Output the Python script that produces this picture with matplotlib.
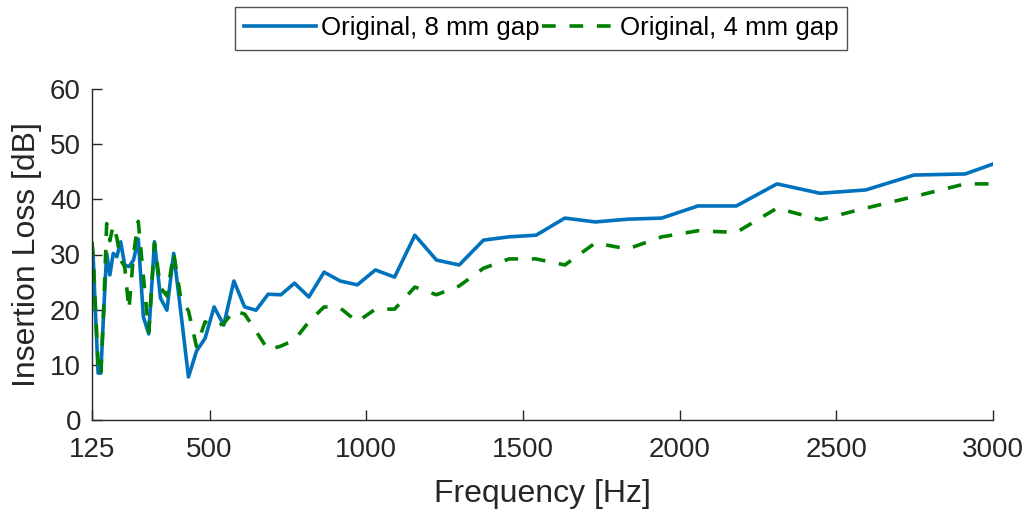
import matplotlib.pyplot as plt

# 1/12-octave band frequencies [Hz]
freq = [125, 128.7, 136.4, 144.5, 153.1, 162.2, 171.8, 182.0, 192.8, 204.3,
        216.5, 229.3, 243.0, 257.4, 272.7, 288.9, 306.1, 324.3, 343.6, 364.0,
        385.6, 408.5, 432.8, 458.5, 485.8, 514.7, 545.3, 577.7, 612.0, 648.4,
        687.0, 727.8, 771.1, 816.9, 865.5, 917.0, 971.5, 1029.3, 1090.5, 1155.3,
        1224.0, 1296.8, 1373.9, 1455.6, 1542.1, 1633.8, 1731.0, 1833.9, 1943.0,
        2058.5, 2181.0, 2310.7, 2448.1, 2593.7, 2747.9, 2911.3, 3000]

gap_8mm = [26.1, 29.6, 19.0, 8.5, 8.5, 19.5, 30.2, 26.3, 30.2, 29.6,
           32.3, 28.1, 27.8, 29.0, 32.8, 18.7, 15.6, 32.3, 22.1, 19.9,
           30.2, 19.5, 7.8, 12.5, 14.8, 20.5, 17.2, 25.2, 20.5, 19.9,
           22.8, 22.7, 24.8, 22.3, 26.8, 25.2, 24.5, 27.2, 25.9, 33.5,
           29.0, 28.1, 32.6, 33.2, 33.5, 36.6, 35.9, 36.4, 36.6,
           38.8, 38.8, 42.8, 41.1, 41.7, 44.4, 44.6, 46.4]

gap_4mm = [32.3, 30.0, 20.0, 10.0, 8.0, 20.0, 35.6, 32.5, 35.3, 33.0,
           29.0, 27.8, 20.0, 30.0, 36.0, 26.0, 16.0, 32.0, 24.0, 22.5,
           30.3, 22.0, 19.8, 13.3, 17.8, 16.9, 17.5, 19.8, 19.2, 16.1,
           12.7, 13.4, 14.5, 17.8, 20.5, 20.3, 17.8, 20.1, 20.1, 24.1,
           22.7, 24.3, 27.5, 29.2, 29.2, 28.1, 32.1, 31.0, 33.2,
           34.3, 34.0, 38.4, 36.3, 38.4, 40.5, 42.8, 42.8]

xticks = [125, 500, 1000, 1500, 2000, 2500, 3000]
yticks = [0, 10, 20, 30, 40, 50, 60]

plt.rcParams['font.family'] = ['Liberation Sans', 'DejaVu Sans']
dark = '#262626'

fig = plt.figure(figsize=(10.27, 5.12), dpi=100)
ax = fig.add_axes([92 / 1027, 1 - 420 / 512, 901 / 1027, 331 / 512])

ax.plot(freq, gap_8mm, color='#0072BD', lw=2.6, label='Original, 8 mm gap')
ax.plot(freq, gap_4mm, color='#008000', lw=2.6, ls=(0, (3.8, 3.8)),
        label='Original, 4 mm gap')

ax.set_xlim(125, 3000)
ax.set_ylim(0, 60)
ax.set_xticks(xticks)
ax.set_yticks(yticks)
ax.tick_params(direction='in', length=7, width=1, colors=dark, labelsize=20)
ax.tick_params(axis='x', pad=12)
ax.tick_params(axis='y', pad=8)
ax.set_xlabel('Frequency [Hz]', fontsize=23, color=dark)
ax.set_ylabel('Insertion Loss [dB]', fontsize=23, color=dark)
ax.xaxis.set_label_coords(0.5, -0.178)
ax.yaxis.set_label_coords(-0.056, 0.5)

for side in ['top', 'right']:
    ax.spines[side].set_visible(False)
for side in ['left', 'bottom']:
    ax.spines[side].set_color(dark)
    ax.spines[side].set_linewidth(1)

leg = ax.legend(loc='center', bbox_to_anchor=(541 / 1027, 1 - 28.5 / 512),
                bbox_transform=fig.transFigure, ncol=2, fontsize=18.6,
                frameon=True, fancybox=False, edgecolor=dark,
                handlelength=2.8, handletextpad=0.2, columnspacing=0.1,
                borderpad=0.35, borderaxespad=0)
leg.get_frame().set_linewidth(1)

fig.savefig('out.png', dpi=100)
